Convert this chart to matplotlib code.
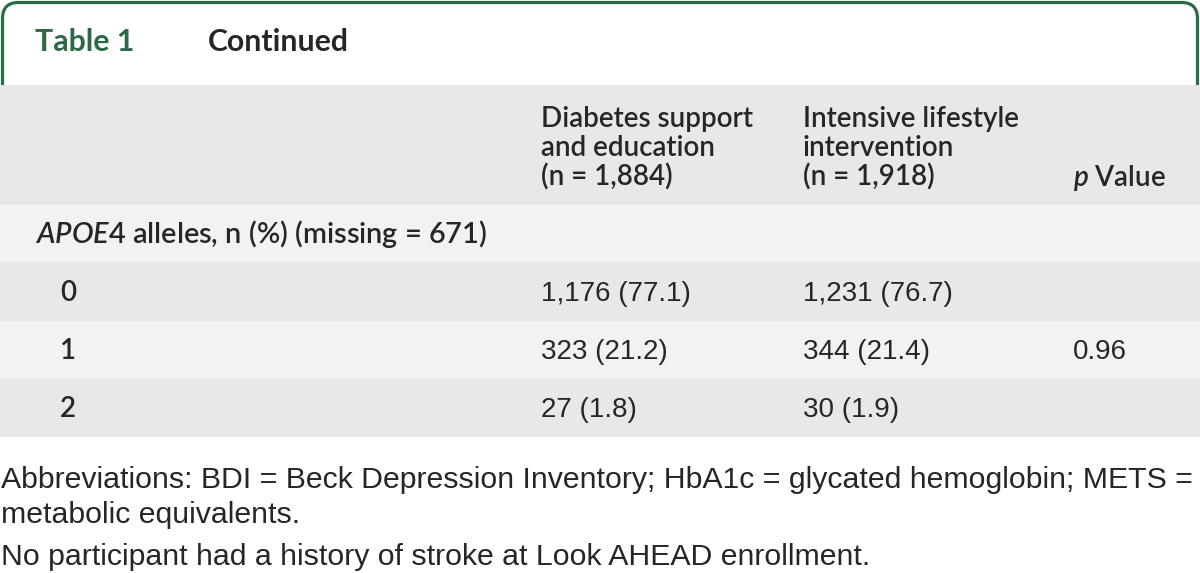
import matplotlib
matplotlib.use("Agg")
import matplotlib.pyplot as plt
from matplotlib.patches import FancyBboxPatch, Rectangle

plt.rcParams['mathtext.fontset'] = 'custom'
plt.rcParams['mathtext.rm'] = 'Lato:semibold'
plt.rcParams['mathtext.it'] = 'Lato:italic:semibold'

# table content
table_label = "Table 1"
table_note = "Continued"
group_heads = [["Diabetes support", "and education", "(n = 1,884)"],
               ["Intensive lifestyle", "intervention", "(n = 1,918)"]]
pval_head = r"$\mathit{p}$ Value"
section = r"$\mathit{APOE4}$ alleles, n (%) (missing = 671)"
alleles = ["0", "1", "2"]
dse = ["1,176 (77.1)", "323 (21.2)", "27 (1.8)"]
ili = ["1,231 (76.7)", "344 (21.4)", "30 (1.9)"]
pvals = ["", "0.96", ""]
notes = ["Abbreviations: BDI = Beck Depression Inventory; HbA1c = glycated hemoglobin; METS =",
         "metabolic equivalents.",
         "No participant had a history of stroke at Look AHEAD enrollment."]

green = "#2c6a46"
dark = "#262626"
gray = "#e7e8e8"
light = "#f2f2f2"
head_font = "Lato"
body_font = "Liberation Sans"

fig = plt.figure(figsize=(12, 5.73), dpi=100)
ax = fig.add_axes([0, 0, 1, 1])
ax.set_xlim(0, 1200)
ax.set_ylim(573, 0)
ax.axis('off')

# green tab outline
tab = FancyBboxPatch((2.5, 2.5), 1195, 140, boxstyle="round,pad=0,rounding_size=16",
                     ec=green, fc="white", lw=2.3, zorder=1)
ax.add_patch(tab)

# row bands
edges = [85, 205, 262, 321, 378, 437]
fills = [gray, light, gray, light, gray]
for i in range(len(fills)):
    ax.add_patch(Rectangle((0, edges[i]), 1200, edges[i + 1] - edges[i],
                           fc=fills[i], ec="none", zorder=2))
ax.add_patch(Rectangle((0, 437), 1200, 140, fc="white", ec="none", zorder=2))

ax.text(35, 51, table_label, color=green, fontsize=21.8, family=head_font,
        weight="bold", va="baseline", zorder=3)
ax.text(208, 51, table_note, color=dark, fontsize=21.8, family=head_font,
        weight="bold", va="baseline", zorder=3)

col_x = [541, 803]
head_base = [127, 156, 186]
for cx, lines in zip(col_x, group_heads):
    for yb, line in zip(head_base, lines):
        ax.text(cx, yb, line, color=dark, fontsize=20, family=head_font,
                weight="semibold", va="baseline", zorder=3)
ax.text(1073, head_base[2], pval_head, color=dark, fontsize=20, family=head_font,
        weight="semibold", va="baseline", zorder=3)

ax.text(35, 243, section, color=dark, fontsize=20.8, family=head_font,
        weight="semibold", va="baseline", zorder=3)

row_base = [301, 359, 417]
for yb, a, v1, v2, p in zip(row_base, alleles, dse, ili, pvals):
    ax.text(60, yb, a, color=dark, fontsize=20, family=head_font,
            weight="semibold", va="baseline", zorder=3)
    ax.text(col_x[0], yb, v1, color=dark, fontsize=20, family=body_font,
            va="baseline", zorder=3)
    ax.text(col_x[1], yb, v2, color=dark, fontsize=20, family=body_font,
            va="baseline", zorder=3)
    ax.text(1073, yb, p, color=dark, fontsize=20, family=body_font,
            va="baseline", zorder=3)

note_base = [488, 523, 565]
for yb, line in zip(note_base, notes):
    ax.text(1, yb, line, color=dark, fontsize=21.8, family=body_font,
            va="baseline", zorder=3)

fig.savefig("out.png", dpi=100)
